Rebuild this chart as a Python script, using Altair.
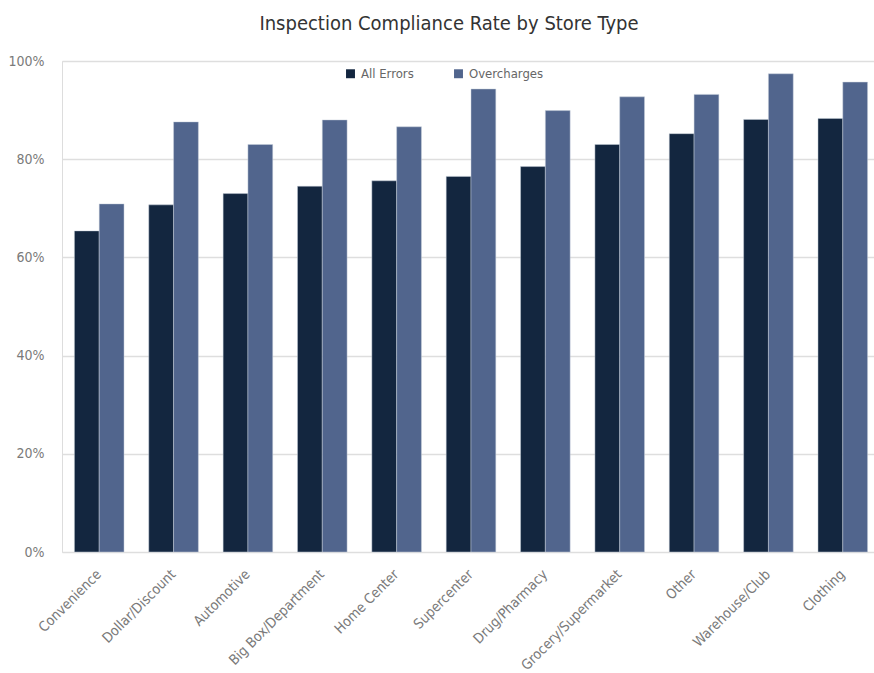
import altair as alt
import pandas as pd

# Compliance rates (%) by store type
store_types = [
    "Convenience", "Dollar/Discount", "Automotive", "Big Box/Department",
    "Home Center", "Supercenter", "Drug/Pharmacy", "Grocery/Supermarket",
    "Other", "Warehouse/Club", "Clothing",
]
all_errors = [65.4, 70.7, 73.0, 74.5, 75.6, 76.5, 78.5, 83.0, 85.2, 88.1, 88.3]
overcharges = [70.9, 87.6, 83.0, 88.0, 86.6, 94.3, 89.9, 92.7, 93.2, 97.4, 95.7]
series_names = ["All Errors", "Overcharges"]
series_colors = ["#13263F", "#51658D"]

rows = []
for i, s in enumerate(store_types):
    rows.append({"store": s, "series": series_names[0], "rate": all_errors[i] / 100})
    rows.append({"store": s, "series": series_names[1], "rate": overcharges[i] / 100})
df = pd.DataFrame(rows)

FONT = "Liberation Sans Narrow, DejaVu Sans Condensed, sans-serif"
LABEL_GREY = "#7a7a7a"

chart = (
    alt.Chart(df)
    .mark_bar(stroke="#c9d0dc", strokeWidth=0.6, strokeOpacity=0.8)
    .encode(
        x=alt.X(
            "store:N",
            sort=store_types,
            title=None,
            scale=alt.Scale(paddingInner=0.333, paddingOuter=0.167, range=[0, 818]),
            axis=alt.Axis(
                labelAngle=-45,
                labelAlign="right",
                labelBaseline="middle",
                labelFontSize=14,
                labelColor=LABEL_GREY,
                labelFont=FONT,
                labelPadding=20,
                ticks=False,
                domain=False,
            ),
        ),
        xOffset=alt.XOffset("series:N", sort=series_names),
        y=alt.Y(
            "rate:Q",
            title=None,
            scale=alt.Scale(domain=[0, 1]),
            axis=alt.Axis(
                values=[0, 0.2, 0.4, 0.6, 0.8, 1.0],
                format=".0%",
                labelFontSize=14,
                labelColor=LABEL_GREY,
                labelFont=FONT,
                labelPadding=18,
                ticks=False,
                domain=False,
                gridColor="#dedede",
                gridWidth=1.5,
            ),
        ),
        color=alt.Color(
            "series:N",
            sort=series_names,
            scale=alt.Scale(domain=series_names, range=series_colors),
            legend=alt.Legend(
                title=None,
                orient="none",
                direction="horizontal",
                legendX=282,
                legendY=6,
                symbolType="square",
                symbolSize=80,
                symbolStrokeWidth=0,
                labelFontSize=13,
                labelColor="#666666",
                labelFont=FONT,
                columnPadding=38,
                labelOffset=4,
            ),
        ),
    )
    .properties(
        width=812,
        height=491,
        autosize=alt.AutoSizeParams(type="none"),
        padding={"left": 62, "top": 61, "right": 0, "bottom": 121},
        title=alt.TitleParams(
            "Inspection Compliance Rate by Store Type",
            font=FONT,
            fontSize=20,
            fontWeight="normal",
            color="#333333",
            anchor="middle",
            dx=-19,
            offset=20,
        ),
    )
    .configure_view(strokeWidth=0, strokeOpacity=0)
    .configure(background="white")
)

chart.save("out.html", embed_options={"renderer": "svg", "actions": False})
